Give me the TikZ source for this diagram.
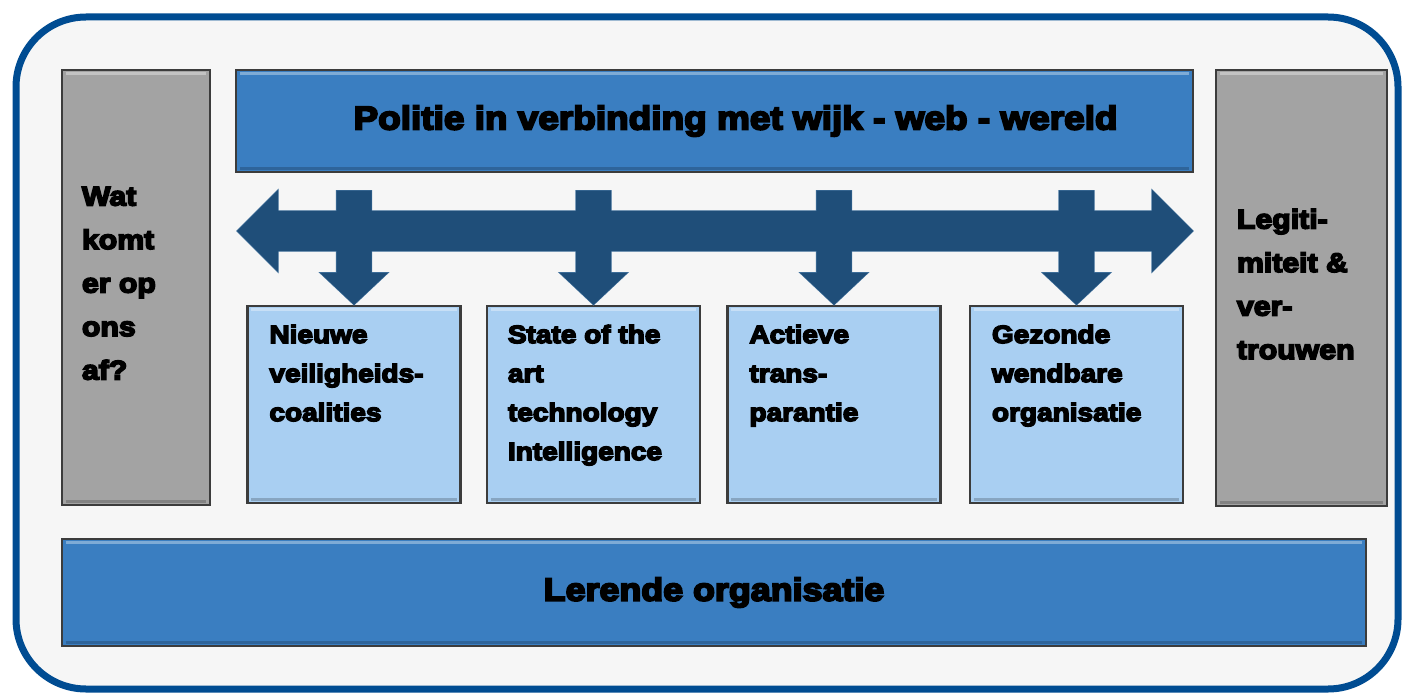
\documentclass[tikz,border=0pt]{standalone}
\usepackage{fontspec}
\setmainfont{Liberation Sans}[BoldFeatures={FakeBold=6, FakeStretch=1.12}]
\usetikzlibrary{positioning, calc}

\definecolor{rimblue}{RGB}{0,76,146}
\definecolor{barblue}{RGB}{58,126,193}
\definecolor{paleblue}{RGB}{169,207,242}
\definecolor{pillargray}{RGB}{163,163,163}
\definecolor{arrowblue}{RGB}{31,78,121}
\definecolor{arrowedge}{RGB}{65,113,156}
\definecolor{edgegray}{RGB}{60,60,60}

\tikzset{
    block/.style={rectangle, draw=edgegray, line width=2.5pt, inner sep=0pt},
    bar/.style={block, fill=barblue},
    pillar/.style={block, fill=pillargray, minimum width=148, minimum height=435},
    topic/.style={block, fill=paleblue, minimum width=213, minimum height=197},
    bartext/.style={inner sep=0pt, font=\bfseries\fontsize{33}{38}\selectfont},
    sidetext/.style={inner sep=0pt, anchor=north west, align=left,
        font=\bfseries\fontsize{27}{43.5}\selectfont},
    topictext/.style={inner sep=0pt, anchor=north west, align=left,
        font=\bfseries\fontsize{25}{39}\selectfont},
    arrowrim/.style={draw=arrowedge, line width=1.2pt, line join=miter},
    arrowbody/.style={fill=arrowblue}
}

\begin{document}
\begin{tikzpicture}[x=1pt, y=-1pt]
        \useasboundingbox (0,0) rectangle (1405,695);

        % frame
        \draw[rimblue, line width=7pt, fill=gray!7, rounded corners=70pt]
            (16,17) rectangle (1398,689);

        % side pillars
        \node[pillar] (ask) at (136,287.5) {};
        \node[pillar, minimum width=171, minimum height=436] (trust) at (1301.5,288) {};

        % bars
        \node[bar, minimum width=957, minimum height=102] (politie) at (714.5,121) {};
        \node[bar, minimum width=1304, minimum height=107] (lerend) at (714,592.5) {};

        % topic boxes
        \node[topic] (coal) at (354,404.5) {};
        \node[topic, right=24 of coal] (tech) {};
        \node[topic, right=25 of tech] (trans) {};
        \node[topic, right=27 of trans] (fit) {};

        % bevel highlights
        \foreach \n in {ask,trust,politie,lerend,coal,tech,trans,fit}
        {
            \draw[white, opacity=0.35, line width=3pt]
                ([shift={(5,5)}]\n.north west) -- ([shift={(-5,5)}]\n.north east);
            \draw[black, opacity=0.2, line width=3pt]
                ([shift={(5,-5)}]\n.south west) -- ([shift={(-5,-5)}]\n.south east);
        }

        % arrows: rim first, body on top
        \foreach \style in {arrowrim,arrowbody}
        {
            \path[\style] (237,231) -- (278,190) -- (278,211) -- (1152,211)
                -- (1152,190) -- (1193,231) -- (1152,272) -- (1152,251)
                -- (278,251) -- (278,272) -- cycle;
            \foreach \b in {coal,tech,trans,fit}
            {
                \path[\style]
                    ($(\b.north)+(-17.5,-114)$) -- ($(\b.north)+(17.5,-114)$)
                    -- ($(\b.north)+(17.5,-32)$) -- ($(\b.north)+(34,-32)$)
                    -- (\b.north) -- ($(\b.north)+(-34,-32)$)
                    -- ($(\b.north)+(-17.5,-32)$) -- cycle;
            }
        }

        % texts
        \node[bartext] (politietxt) at ([xshift=21pt]politie.center)
            {Politie in verbinding met wijk - web - wereld};
        \node[bartext, font=\bfseries\fontsize{32}{38}\selectfont] (lerendtxt)
            at (lerend.center) {Lerende organisatie};
        \node[sidetext] (asktxt) at ([xshift=21pt, yshift=-118pt]ask.north west)
            {Wat\\komt\\er op\\ons\\af?};
        \node[sidetext] (trusttxt) at ([xshift=22pt, yshift=-140pt]trust.north west)
            {Legiti-\\miteit \&\\ver-\\trouwen};
        \node[topictext] (coaltxt) at ([xshift=23pt, yshift=-20pt]coal.north west)
            {Nieuwe\\veiligheids-\\coalities};
        \node[topictext] (techtxt) at ([xshift=22pt, yshift=-20pt]tech.north west)
            {State of the\\art\\technology\\Intelligence};
        \node[topictext] (transtxt) at ([xshift=23pt, yshift=-20pt]trans.north west)
            {Actieve\\trans-\\parantie};
        \node[topictext] (fittxt) at ([xshift=23pt, yshift=-20pt]fit.north west)
            {Gezonde\\wendbare\\organisatie};
\end{tikzpicture}
\end{document}
